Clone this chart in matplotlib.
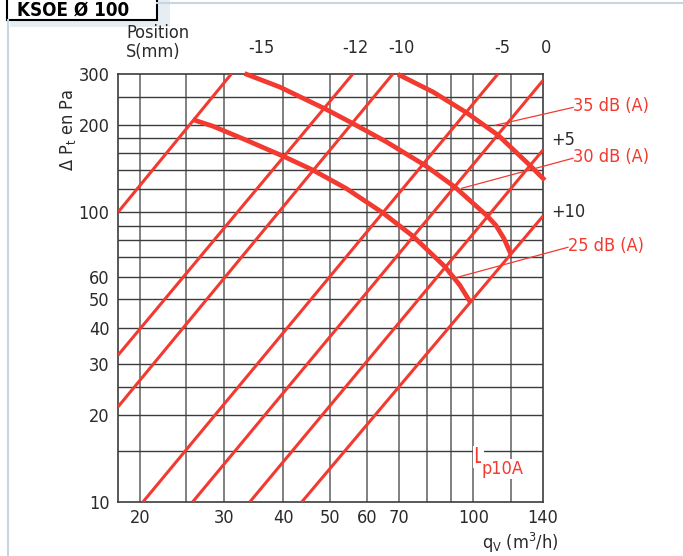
import numpy as np
import matplotlib
matplotlib.use('Agg')
import matplotlib.pyplot as plt
from matplotlib.patches import Rectangle
from matplotlib.lines import Line2D
import matplotlib.transforms as mtransforms

plt.rcParams['font.family'] = ['DejaVu Sans']
plt.rcParams['font.stretch'] = 'condensed'

# position lines (straight in log-log), endpoints
pos_labels = ['-15', '-12', '-10', '-5', '0', '+5', '+10']
line_q0 = [18, 18, 18, 20.3, 25.8, 34.0, 43.7]
line_p0 = [100, 32.1, 21.3, 10, 10, 10, 10]
line_q1 = [31.1, 55.9, 67.8, 112.6, 140, 140, 140]
line_p1 = [300, 300, 300, 300, 285, 164, 97]

# noise curves Lp10A
q_35 = [70.2, 82.4, 96.8, 112.8, 131.4, 140.1]
p_35 = [296.9, 259.9, 220.7, 184.3, 145.2, 130.7]
q_30 = [33.5, 39.3, 49.3, 56.0, 65.8, 79.2, 91.5, 106.6, 111.5, 115.9, 119.3]
p_30 = [299.2, 270.5, 226.0, 202.2, 174.8, 145.2, 122.2, 97.6, 90.2, 81.3, 73.0]
q_25 = [26.1, 28.5, 33.5, 40.3, 46.2, 54.2, 64.7, 74.8, 87.2, 93.7, 98.0]
p_25 = [207.6, 198.0, 177.1, 155.1, 139.6, 120.7, 99.4, 82.6, 64.9, 56.0, 49.7]

xticks = [20, 30, 40, 50, 60, 70, 100, 140]
yticks = [10, 20, 30, 40, 50, 60, 100, 200, 300]
xgrid = [20, 25, 30, 40, 50, 60, 70, 80, 90, 100, 120]
ygrid = [15, 20, 25, 30, 40, 50, 60, 70, 80, 90, 100, 120, 140, 160, 180, 200, 250]

red = '#f23a30'
ink = '#2a2a2a'

fig = plt.figure(figsize=(6.83, 5.56), dpi=100)
ax = fig.add_axes([118/683, 1-502/556, 425/683, 428/556])
ax.set_xscale('log')
ax.set_yscale('log')
ax.set_xlim(18, 140)
ax.set_ylim(10, 300)

for v in xgrid:
    ax.axvline(v, color='#808080', lw=1.4, zorder=1)
for v in ygrid:
    ax.axhline(v, color='#3c3c3c', lw=1.0, zorder=1)
for s in ax.spines.values():
    s.set_color('#3c3c3c')
    s.set_linewidth(1.2)

ax.set_xticks(xticks)
ax.set_xticklabels([str(t) for t in xticks])
ax.set_yticks(yticks)
ax.set_yticklabels([str(t) for t in yticks])
ax.minorticks_off()
ax.tick_params(length=0, labelsize=13, colors=ink)
ax.tick_params(axis='x', pad=5)
ax.tick_params(axis='y', pad=6)

for i in range(len(pos_labels)):
    ax.plot([line_q0[i], line_q1[i]], [line_p0[i], line_p1[i]], color=red, lw=2.2,
            solid_capstyle='butt', zorder=3)

for q, p in [(q_35, p_35), (q_30, p_30), (q_25, p_25)]:
    ax.plot(q, p, color=red, lw=3.4, zorder=4, clip_on=False, solid_joinstyle='round')

# leaders + dB labels
ax.plot([161.8, 111.0], [230, 199.5], color=red, lw=0.9, clip_on=False, zorder=5)
ax.plot([161.8, 94.6], [153.6, 121], color=red, lw=0.9, clip_on=False, zorder=5)
ax.plot([157.9, 92.8], [75.7, 59.7], color=red, lw=0.9, clip_on=False, zorder=5)
ax.text(161.8, 232, '35 dB (A)', color=red, fontsize=13, va='center', ha='left')
ax.text(161.8, 155, '30 dB (A)', color=red, fontsize=13, va='center', ha='left')
ax.text(157.9, 76.5, '25 dB (A)', color=red, fontsize=13, va='center', ha='left')

# position labels
top = mtransforms.blended_transform_factory(ax.transData, ax.transAxes)
for q, lab in zip([36, 56.5, 70.8, 114.8, 142], pos_labels[:5]):
    ax.text(q, 1.06, lab, transform=top, ha='center', va='center', fontsize=13, color=ink)
right = mtransforms.blended_transform_factory(ax.transAxes, ax.transData)
ax.text(1.02, 177, pos_labels[5], transform=right, ha='left', va='center', fontsize=13, color=ink)
ax.text(1.02, 100, pos_labels[6], transform=right, ha='left', va='center', fontsize=13, color=ink)

ax.text(100, 14.3, 'L', color=red, fontsize=15, ha='left', va='center', zorder=6,
        bbox=dict(facecolor='white', edgecolor='none', pad=0.5))
ax.text(104, 13.0, 'p10A', color=red, fontsize=13, ha='left', va='center', zorder=6,
        bbox=dict(facecolor='white', edgecolor='none', pad=0.5))

fig.text(126/683, 1-33/556, 'Position', fontsize=13, color=ink, va='center', ha='left')
fig.text(126/683, 1-52/556, 'S(mm)', fontsize=13, color=ink, va='center', ha='left')
fig.text(68/683, 1-130/556, r'$\mathregular{\Delta\ P_t\ en\ Pa}$', rotation=90, fontsize=13,
         color=ink, va='center', ha='center')
fig.text(520/683, 1-543/556, r'$\mathregular{q_V\ (m^3/h)}$', fontsize=13,
         color=ink, va='center', ha='center')

# frame and title box
fig.add_artist(Line2D([157/683, 1], [1-3/556, 1-3/556], color='#c8d5de', lw=1.5))
fig.add_artist(Line2D([8/683, 8/683], [0, 1-20/556], color='#c8d5de', lw=1.5))
fig.add_artist(Rectangle((10/683, 1-27/556), 160/683, 27/556, facecolor='#e6eef3',
                         edgecolor='none'))
fig.add_artist(Rectangle((7/683, 1-20/556), 150/683, 26/556, facecolor='white',
                         edgecolor='black', lw=1.5))
fig.text(17/683, 1-16/556, 'KSOE Ø 100', fontsize=13.5, fontweight='bold', va='baseline',
         ha='left', color='black')

plt.savefig('out.png', dpi=100)
